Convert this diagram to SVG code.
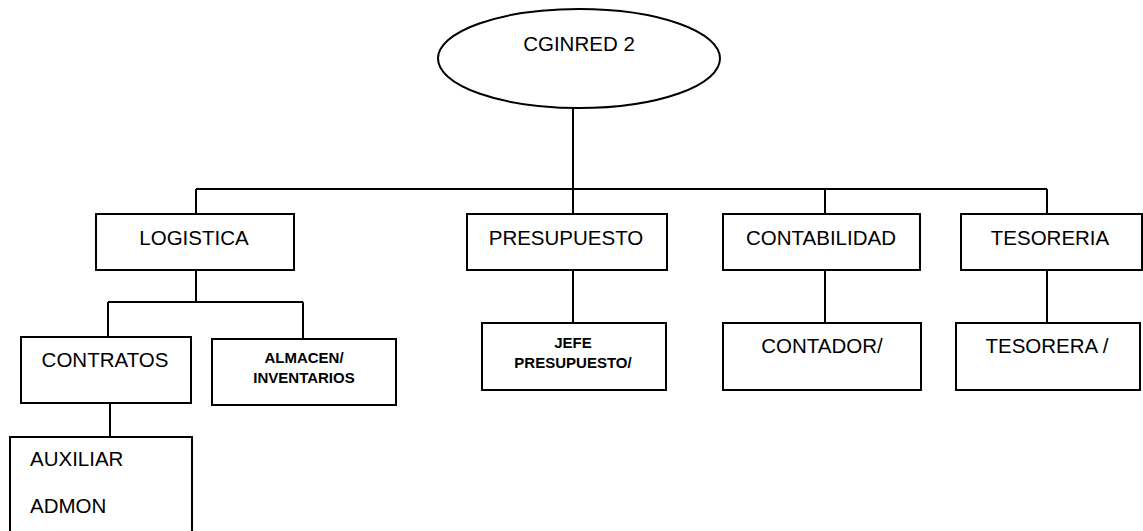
<svg xmlns="http://www.w3.org/2000/svg" width="1143" height="531" viewBox="0 0 1143 531">
<style>
.box{fill:#fff;stroke:#000;stroke-width:2}
.ln{fill:none;stroke:#000;stroke-width:2}
.t{font-family:"Liberation Sans",Arial,sans-serif;font-size:20.5px;fill:#000;text-anchor:middle}
.tl{font-family:"Liberation Sans",Arial,sans-serif;font-size:20.5px;fill:#000}
.b{font-family:"Liberation Sans",Arial,sans-serif;font-size:15px;font-weight:bold;fill:#000;text-anchor:middle}
</style>
<rect width="1143" height="531" fill="#fff"/>
<g id="connectors">
<path class="ln" d="M573,108 V189 M196,189 H1047 M196,189 V214 M573,189 V214 M825,189 V214 M1047,189 V214"/>
<path class="ln" d="M196,270 V302 M108,302 H303 M108,302 V337 M303,302 V339"/>
<path class="ln" d="M110,403 V437"/>
<path class="ln" d="M573,270 V323 M825,270 V323 M1047,270 V323"/>
</g>
<g id="cginred"><ellipse class="box" cx="579" cy="58.5" rx="141" ry="49.5"/><text class="t" x="579" y="51">CGINRED 2</text></g>
<g id="logistica"><rect class="box" x="96" y="214" width="198" height="56"/><text class="t" x="194" y="245">LOGISTICA</text></g>
<g id="presupuesto"><rect class="box" x="467" y="214" width="200" height="56"/><text class="t" x="566" y="245">PRESUPUESTO</text></g>
<g id="contabilidad"><rect class="box" x="723" y="214" width="197" height="56"/><text class="t" x="821" y="245">CONTABILIDAD</text></g>
<g id="tesoreria"><rect class="box" x="961" y="214" width="181" height="56"/><text class="t" x="1050" y="245">TESORERIA</text></g>
<g id="contratos"><rect class="box" x="21" y="337" width="170" height="66"/><text class="t" x="105" y="367">CONTRATOS</text></g>
<g id="almacen"><rect class="box" x="212" y="339" width="184" height="66"/><text class="b" x="304" y="363">ALMACEN/</text><text class="b" x="304" y="383">INVENTARIOS</text></g>
<g id="jefe"><rect class="box" x="482" y="323" width="184" height="67"/><text class="b" x="573" y="348">JEFE</text><text class="b" x="573" y="368">PRESUPUESTO/</text></g>
<g id="contador"><rect class="box" x="723" y="323" width="198" height="67"/><text class="t" x="822" y="353">CONTADOR/</text></g>
<g id="tesorera"><rect class="box" x="956" y="323" width="184" height="67"/><text class="t" x="1047" y="353">TESORERA /</text></g>
<g id="auxiliar"><rect class="box" x="10" y="437" width="182" height="120"/><text class="tl" x="30" y="466">AUXILIAR</text><text class="tl" x="30" y="513">ADMON</text></g>
</svg>
